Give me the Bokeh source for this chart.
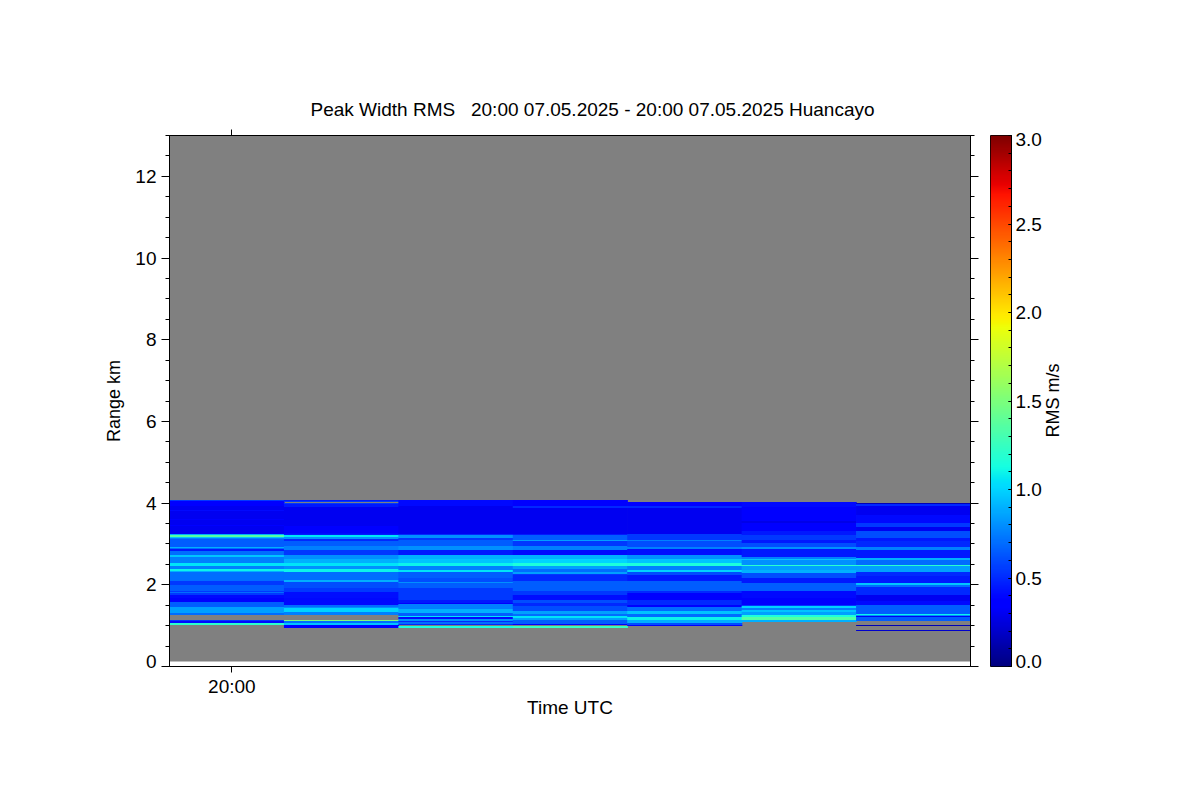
import math
import numpy as np
from bokeh.embed import file_html
from bokeh.layouts import row
from bokeh.models import (ColumnDataSource, FixedTicker, LinearAxis, LinearColorMapper, Range1d)
from bokeh.plotting import figure
from bokeh.resources import INLINE
from bokeh.transform import transform

TITLE = "Peak Width RMS\u00a0\u00a0\u00a020:00 07.05.2025 - 20:00 07.05.2025 Huancayo"
X_LABEL = "Time UTC"
Y_LABEL = "Range km"
CB_LABEL = "RMS m/s"
RMS_MIN, RMS_MAX = 0.0, 3.0
RANGE_MAX = 13.0
GATE_KM = 13.0 / 531.0
TOP_GATE = 168.5
FILL_FLOOR_KM = 0.122

y_major = [0, 2, 4, 6, 8, 10, 12]
y_minor = [0.5, 1, 1.5, 2.5, 3, 3.5, 4.5, 5, 5.5, 6.5, 7, 7.5, 8.5, 9, 9.5, 10.5, 11, 11.5, 12.5, 13]
cb_major = [0.0, 0.5, 1.0, 1.5, 2.0, 2.5, 3.0]

# profile start times, minutes from 20:00
time_start = [-0.545, 0.455, 1.455, 2.455, 3.455, 4.455, 5.455]
time_step = 1.0
time_overlap = 0.006

# gate boundaries counted downward, and RMS value of each gate block (None = no data)
g1 = [2,3,8,12,13,21,22,27,28,36,37,39,40,41,49,50,51,53,57,59,65,68,71,73,74,83,87,93,94,95,97,100,104,109,115,117,122,123,125,127]
v1 = [.55,.38,.3,.4,.3,.38,.3,.38,.3,.9,1.35,.95,.75,.65,.9,.7,.45,.7,.95,.75,1.05,.75,1.1,.9,.7,.55,.65,.55,.7,.55,.4,.35,.65,.85,.7,None,.55,.4,1.2]
g2 = [2,3,4,5,6,9,28,35,36,37,39,41,43,48,52,57,61,65,68,71,74,82,84,90,94,100,107,109,110,114,117,122,123,125,127,130]
v2 = [.45,.55,None,.55,.45,.3,.33,.4,.45,1.05,.8,.5,.65,.75,.55,.8,.9,1.05,.8,1.1,.7,.9,.6,.55,.42,.4,.7,.8,1.0,.75,None,1.5,.7,.95,.35]
g3 = [2,8,36,37,40,42,48,52,57,61,65,68,72,74,80,84,85,90,95,102,105,106,111,115,118,119,121,123,124,126,127,128,130]
v3 = [.4,.3,.5,.8,.55,.65,.8,.45,.9,.95,1.1,.75,1.05,.65,.6,.8,.65,.55,.55,.45,.35,.75,.9,.65,1.05,.4,.8,.5,.7,.5,None,1.15]
g4 = [2,8,10,36,37,42,43,48,52,57,61,65,68,71,74,76,77,83,93,97,102,105,108,113,116,118,120,122,126,127,128,130]
v4 = [.35,.5,.3,.45,.65,.85,.55,.75,.4,.9,1.0,1.15,.85,.7,.85,.55,.5,.65,.55,.42,.6,.5,.6,.85,.7,1.05,.85,.65,.35,None,1.25]
g5 = [4,8,10,36,42,43,49,51,57,61,65,68,72,74,77,83,93,95,102,107,109,113,116,119,122,125,127,128]
v5 = [.35,.5,.3,.55,.75,.6,.75,.42,.8,.95,1.15,.75,1.0,.6,.45,.65,.5,.35,.5,.35,.7,.95,.7,1.1,.9,.6,.35]
g6 = [4,9,17,23,25,33,37,42,45,49,51,59,61,62,67,68,72,75,80,85,93,100,107,108,110,112,114,117,119,122,124]
v6 = [.4,.33,.38,.28,.33,.45,.55,.45,.6,.8,.45,.75,.95,.8,1.2,.85,.9,.6,.45,.65,.4,.33,.55,1.0,.75,.95,.85,1.15,1.35,.9]
g7 = [5,6,8,17,25,29,33,40,43,49,52,60,62,67,68,74,78,85,87,89,97,103,107,116,117,118,119,123,127,128,132,133]
v7 = [.15,.5,.3,.4,.55,.3,.6,.45,.5,.75,.45,.9,.7,1.2,.85,.5,.45,.95,.7,.5,.3,.4,.65,1.1,.8,.3,.65,None,.15,None,.2]
gates = [g1, g2, g3, g4, g5, g6, g7]
values = [v1, v2, v3, v4, v5, v6, v7]


def jet(t):
    def ramp(xs, ys):
        return float(np.interp(t, xs, ys))
    r = ramp([0, .35, .66, .89, 1], [0, 0, 1, 1, .5])
    g = ramp([0, .125, .375, .64, .91, 1], [0, 0, 1, 1, 0, 0])
    b = ramp([0, .11, .34, .65, 1], [.5, 1, 1, 0, 0])
    return "#%02x%02x%02x" % (round(r * 255), round(g * 255), round(b * 255))


palette = [jet(i / 255) for i in range(256)]
mapper = LinearColorMapper(palette=palette, low=RMS_MIN, high=RMS_MAX)

FONT = "Liberation Sans"
FS = "19px"
FS_ROT = "18px"

left, right, top, bottom, rms = [], [], [], [], []
for t0, g, v in zip(time_start, gates, values):
    for i, val in enumerate(v):
        if val is None:
            continue
        left.append(t0)
        right.append(t0 + time_step + time_overlap)
        top.append((TOP_GATE - g[i]) * GATE_KM)
        bottom.append((TOP_GATE - g[i + 1]) * GATE_KM)
        rms.append(val)
stripes = ColumnDataSource(dict(left=left, right=right, top=top, bottom=bottom, rms=rms))

x0, x1 = time_start[0], time_start[-1] + time_step
p = figure(width=980, height=792, x_range=Range1d(x0, x1), y_range=Range1d(0, RANGE_MAX),
           output_backend="svg", toolbar_location=None, tools="",
           min_border_left=169, min_border_right=10, min_border_top=135, min_border_bottom=126,
           x_axis_type=None, y_axis_type=None, background_fill_color="white", border_fill_color="white")
p.grid.visible = False
p.outline_line_color = "black"
p.outline_line_width = 1

p.quad(left=[x0], right=[x1], top=[RANGE_MAX], bottom=[FILL_FLOOR_KM], fill_color="#808080", line_color=None)
p.quad(left="left", right="right", top="top", bottom="bottom", source=stripes,
       fill_color=transform("rms", mapper), line_color=None)

p.title.text = TITLE
p.title.align = "left"
p.title.offset = 141
p.title.text_font = FONT
p.title.text_font_size = FS
p.title.text_font_style = "normal"
p.title.text_color = "black"
p.title.standoff = 20


def style(ax):
    ax.axis_line_color = "black"
    ax.axis_line_width = 1
    ax.major_tick_line_color = "black"
    ax.minor_tick_line_color = "black"
    ax.major_tick_in = 0
    ax.minor_tick_in = 0
    ax.major_label_text_font = FONT
    ax.major_label_text_font_size = FS
    ax.major_label_text_color = "black"
    ax.axis_label_text_font = FONT
    ax.axis_label_text_font_size = FS
    ax.axis_label_text_font_style = "normal"
    ax.axis_label_text_color = "black"


def marks_off(ax):
    ax.axis_line_color = None
    ax.major_tick_line_color = None
    ax.minor_tick_line_color = None
    ax.major_tick_out = 0
    ax.minor_tick_out = 0


y_ticker = FixedTicker(ticks=y_major, minor_ticks=y_minor)
blank_y = {v: "" for v in y_major}

# tick marks next to the frame
yl = LinearAxis(ticker=y_ticker, major_label_overrides=blank_y, major_label_standoff=0)
style(yl)
yl.major_tick_out = 8
yl.minor_tick_out = 4
p.add_layout(yl, "left")

# the labels sit outside the marks; the 0 label is lifted clear of the corner
label_ticks = [FILL_FLOOR_KM] + y_major[1:]
yt = LinearAxis(ticker=FixedTicker(ticks=label_ticks, minor_ticks=[]), axis_label=Y_LABEL,
                major_label_overrides={FILL_FLOOR_KM: "0"}, axis_label_standoff=8,
                major_label_standoff=5)
style(yt)
yt.axis_label_text_font_size = FS_ROT
marks_off(yt)
p.add_layout(yt, "left")

yr = LinearAxis(ticker=y_ticker, major_label_overrides=blank_y, major_label_standoff=0)
style(yr)
yr.major_tick_out = 8
yr.minor_tick_out = 4
p.add_layout(yr, "right")

xb = LinearAxis(ticker=FixedTicker(ticks=[0], minor_ticks=[]), axis_label=X_LABEL,
                major_label_overrides={0: "20:00"}, axis_label_standoff=-3)
style(xb)
xb.major_tick_out = 6
xb.major_label_standoff = 3
p.add_layout(xb, "below")

xt = LinearAxis(ticker=FixedTicker(ticks=[0], minor_ticks=[]), major_label_overrides={0: ""})
style(xt)
xt.major_tick_out = 6
p.add_layout(xt, "above")

cb = figure(width=212, height=792, x_range=Range1d(0, 1), y_range=Range1d(RMS_MIN, RMS_MAX),
            output_backend="svg", toolbar_location=None, tools="",
            min_border_left=10, min_border_right=181, min_border_top=135, min_border_bottom=126,
            x_axis_type=None, y_axis_type=None, background_fill_color="white", border_fill_color="white")
cb.grid.visible = False
cb.outline_line_color = "black"
levels = np.linspace(RMS_MIN, RMS_MAX, 256).reshape(-1, 1)
cb.image(image=[levels], x=0, y=RMS_MIN, dw=1, dh=RMS_MAX - RMS_MIN, color_mapper=mapper)

cb_minor = [round(i * 0.1, 1) for i in range(31)]
cax = LinearAxis(ticker=FixedTicker(ticks=cb_major, minor_ticks=cb_minor),
                 major_label_overrides={v: "" for v in cb_major}, major_label_standoff=0)
style(cax)
cax.major_tick_out = 0
cax.minor_tick_out = 0
cax.major_tick_in = 3
cax.minor_tick_in = 3
cb.add_layout(cax, "right")

# label positions: end labels pulled inward so that they stay next to the bar
cb_label_at = [0.028, 0.5, 1.0, 1.5, 2.0, 2.5, 2.977]
cb_label_text = ["0.0", "0.5", "1.0", "1.5", "2.0", "2.5", "3.0"]
clab = LinearAxis(ticker=FixedTicker(ticks=cb_label_at, minor_ticks=[]),
                  major_label_overrides=dict(zip(cb_label_at, cb_label_text)),
                  major_label_standoff=4)
style(clab)
marks_off(clab)
cb.add_layout(clab, "right")

# bar title: a rotated label that starts at this value and reads upward
CB_LABEL_AT = 1.294
ctitle = LinearAxis(ticker=FixedTicker(ticks=[CB_LABEL_AT], minor_ticks=[]),
                    major_label_overrides={CB_LABEL_AT: CB_LABEL},
                    major_label_orientation=math.pi / 2, major_label_standoff=9)
style(ctitle)
ctitle.major_label_text_font_size = FS_ROT
marks_off(ctitle)
cb.add_layout(ctitle, "right")

page = row(p, cb, spacing=0)
open("out.html", "w").write(file_html(page, INLINE))
